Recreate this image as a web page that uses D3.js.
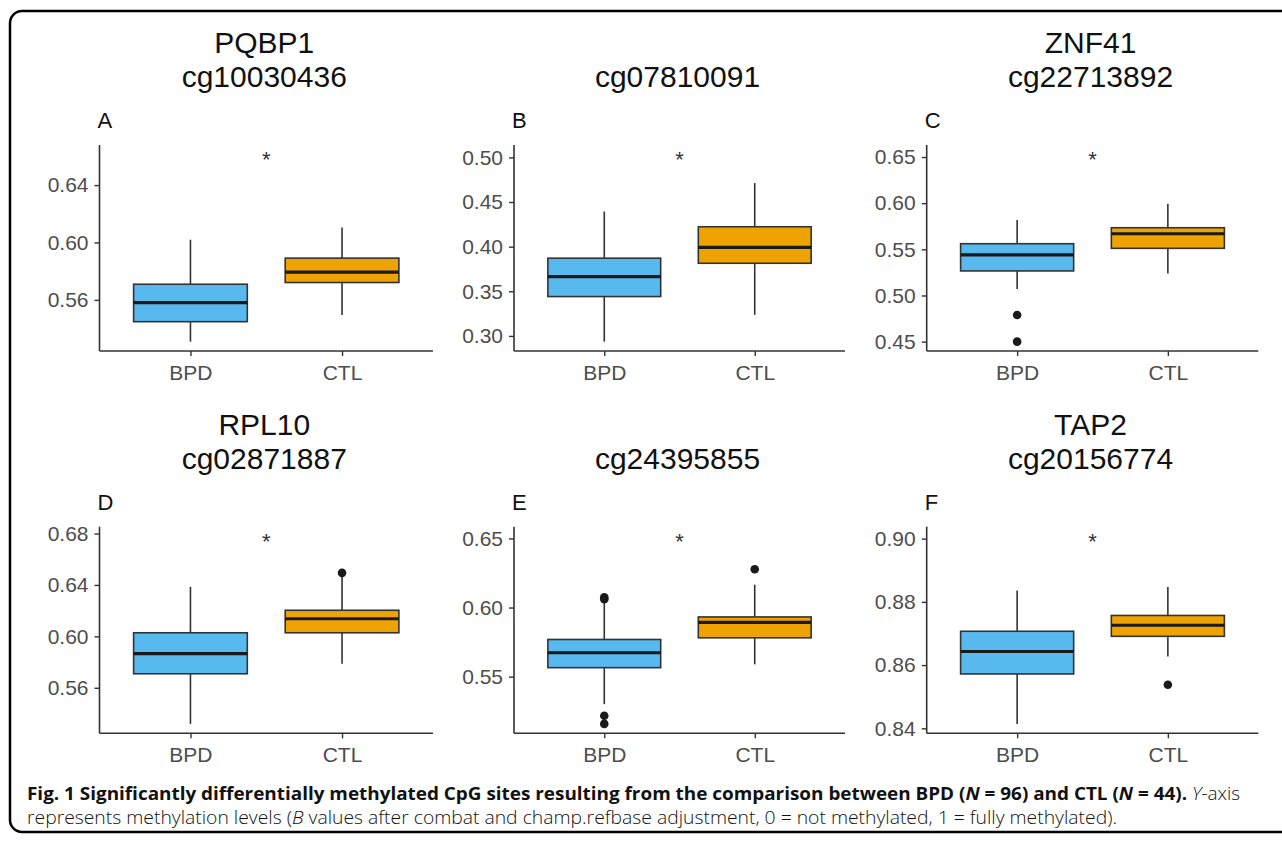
<!DOCTYPE html>
<html>
<head>
<meta charset="utf-8">
<script src="https://cdn.jsdelivr.net/npm/d3@7/dist/d3.min.js"></script>
<style>
  html, body { margin: 0; padding: 0; background: #fff; }
  svg { display: block; }
</style>
</head>
<body>
<div id="chart"></div>
<script>
// group names on the x axis
var groups = ["BPD", "CTL"];
var groupColors = ["#58B9EF", "#EFA302"];

// panel titles
var panelLetters = ["A", "B", "C", "D", "E", "F"];
var geneNames = ["PQBP1", "", "ZNF41", "RPL10", "", "TAP2"];
var probeIds = ["cg10030436", "cg07810091", "cg22713892", "cg02871887", "cg24395855", "cg20156774"];

// box stats per panel: [lower whisker, Q1, median, Q3, upper whisker]
var bpdStats = [
  [0.5309, 0.5448, 0.5581, 0.5709, 0.6019],
  [0.2936, 0.3441, 0.3665, 0.3871, 0.4394],
  [0.5069, 0.5266, 0.5439, 0.5561, 0.5817],
  [0.5319, 0.5709, 0.5865, 0.6028, 0.6385],
  [0.5301, 0.5565, 0.5673, 0.5769, 0.6032],
  [0.8414, 0.8572, 0.8643, 0.8707, 0.8836]
];
var ctlStats = [
  [0.5495, 0.5721, 0.5793, 0.5891, 0.6105],
  [0.3236, 0.3814, 0.3992, 0.4223, 0.4712],
  [0.5237, 0.5511, 0.5669, 0.5734, 0.5993],
  [0.5787, 0.6028, 0.6137, 0.6203, 0.6462],
  [0.5589, 0.5781, 0.5893, 0.5932, 0.6165],
  [0.8627, 0.8691, 0.8726, 0.8757, 0.8847]
];
var bpdOutliers = [[], [], [0.4788, 0.4500], [], [0.6075, 0.6060, 0.5217, 0.5158], []];
var ctlOutliers = [[], [], [], [0.6494], [0.6277], [0.8538]];

// y of the significance star (p.signif label)
var starY = [0.6614, 0.5034, 0.6529, 0.6780, 0.6517, 0.9008];

// y tick labels
var yTicks = [
  [0.56, 0.60, 0.64],
  [0.30, 0.35, 0.40, 0.45, 0.50],
  [0.45, 0.50, 0.55, 0.60, 0.65],
  [0.56, 0.60, 0.64, 0.68],
  [0.55, 0.60, 0.65],
  [0.84, 0.86, 0.88, 0.90]
];

var W = 1282, H = 843;
var colLeft = [99.5, 514, 926.7], colRight = [433, 845, 1258.3];
var rowTop = [145, 526.7], rowBottom = [351, 733.3];
var font = "'Liberation Sans', Arial, sans-serif";
var dark = "#333333";

var svg = d3.select("#chart").append("svg")
  .attr("width", W)
  .attr("height", H);

// outer frame
svg.append("rect")
  .attr("x", 10).attr("y", 11)
  .attr("width", 1300).attr("height", 821)
  .attr("rx", 12).attr("ry", 12)
  .style("fill", "none")
  .style("stroke", "#000")
  .style("stroke-width", 2.5);

function drawPanel(p){
  var col = p % 3, row = Math.floor(p / 3);
  var left = colLeft[col], right = colRight[col];
  var top = rowTop[row], bottom = rowBottom[row];

  var stats = [bpdStats[p], ctlStats[p]];
  var outs = [bpdOutliers[p], ctlOutliers[p]];

  // ggplot style range: data + 5% on each side
  var allVals = d3.merge([stats[0], stats[1], outs[0], outs[1], [starY[p]]]);
  var ext = d3.extent(allVals);
  var pad = (ext[1] - ext[0]) * 0.05;

  var y = d3.scaleLinear().domain([ext[0] - pad, ext[1] + pad]).range([bottom, top]);
  var x = d3.scalePoint().domain(groups).range([left, right]).padding(0.6);
  var boxW = x.step() * 0.75;

  var g = svg.append("g").attr("class", "panel");

  // titles
  var cx = (left + right) / 2 - 2;
  if(geneNames[p] != ""){
    g.append("text")
      .attr("x", cx).attr("y", top - 92)
      .attr("text-anchor", "middle")
      .style("font-family", font).style("font-size", "30px").style("fill", "#111")
      .text(geneNames[p]);
  }
  g.append("text")
    .attr("x", cx).attr("y", top - 58)
    .attr("text-anchor", "middle")
    .style("font-family", font).style("font-size", "30px").style("fill", "#111")
    .text(probeIds[p]);
  g.append("text")
    .attr("x", left - 2).attr("y", top - 17)
    .style("font-family", font).style("font-size", "22px").style("fill", "#111")
    .text(panelLetters[p]);

  // boxes
  var boxes = g.selectAll(".box")
    .data(groups.map(function(d, i){ return {grp: d, s: stats[i], out: outs[i], color: groupColors[i]}; }))
    .enter().append("g")
    .attr("class", "box");

  boxes.append("line")
    .attr("x1", function(d){ return x(d.grp); })
    .attr("x2", function(d){ return x(d.grp); })
    .attr("y1", function(d){ return y(d.s[0]); })
    .attr("y2", function(d){ return y(d.s[4]); })
    .style("stroke", dark).style("stroke-width", 1.6);

  boxes.append("rect")
    .attr("x", function(d){ return x(d.grp) - boxW / 2; })
    .attr("width", boxW)
    .attr("y", function(d){ return y(d.s[3]); })
    .attr("height", function(d){ return y(d.s[1]) - y(d.s[3]); })
    .style("fill", function(d){ return d.color; })
    .style("stroke", dark).style("stroke-width", 1.6);

  boxes.append("line")
    .attr("x1", function(d){ return x(d.grp) - boxW / 2; })
    .attr("x2", function(d){ return x(d.grp) + boxW / 2; })
    .attr("y1", function(d){ return y(d.s[2]); })
    .attr("y2", function(d){ return y(d.s[2]); })
    .style("stroke", "#1a1a1a").style("stroke-width", 3.2);

  boxes.selectAll(".outlier")
    .data(function(d){ return d.out.map(function(v){ return {grp: d.grp, v: v}; }); })
    .enter().append("circle")
    .attr("class", "outlier")
    .attr("cx", function(d){ return x(d.grp); })
    .attr("cy", function(d){ return y(d.v); })
    .attr("r", 4.3)
    .style("fill", "#1a1a1a");

  // significance star
  g.append("text")
    .attr("x", (x(groups[0]) + x(groups[1])) / 2)
    .attr("y", y(starY[p]))
    .attr("dy", "0.57em")
    .attr("text-anchor", "middle")
    .style("font-family", font).style("font-size", "22px").style("fill", dark)
    .text("*");

  // axes
  var yAxis = g.append("g")
    .attr("transform", "translate(" + left + ",0)")
    .call(d3.axisLeft(y).tickValues(yTicks[p]).tickFormat(d3.format(".2f")).tickSize(5).tickSizeOuter(0).tickPadding(6));
  var xAxis = g.append("g")
    .attr("transform", "translate(0," + bottom + ")")
    .call(d3.axisBottom(x).tickSize(5).tickSizeOuter(0).tickPadding(9));

  [yAxis, xAxis].forEach(function(a){
    a.select(".domain").style("stroke", dark).style("stroke-width", 1.6);
    a.selectAll(".tick line").style("stroke", dark).style("stroke-width", 1.4);
    a.selectAll(".tick text")
      .style("font-family", font).style("font-size", "21px").style("fill", "#4d4d4d");
  });
  // make the y axis line span full panel
  yAxis.select(".domain").attr("d", "M0," + bottom + "V" + top);
  xAxis.select(".domain").attr("d", "M" + left + ",0H" + right);
}

for(var p = 0; p < 6; p++){ drawPanel(p); }

// figure caption
var capFont = "'Open Sans', 'Noto Sans', sans-serif";
var cap1 = svg.append("text")
  .attr("x", 27).attr("y", 800)
  .attr("textLength", 1213).attr("lengthAdjust", "spacingAndGlyphs")
  .style("font-family", capFont).style("font-size", "18px").style("fill", "#111");
cap1.append("tspan").style("font-weight", "bold").text("Fig. 1 Significantly differentially methylated CpG sites resulting from the comparison between BPD (");
cap1.append("tspan").style("font-weight", "bold").style("font-style", "italic").text("N");
cap1.append("tspan").style("font-weight", "bold").text(" = 96) and CTL (");
cap1.append("tspan").style("font-weight", "bold").style("font-style", "italic").text("N");
cap1.append("tspan").style("font-weight", "bold").text(" = 44). ");
cap1.append("tspan").style("font-style", "italic").style("font-weight", "300").text("Y");
cap1.append("tspan").style("font-weight", "300").text("-axis");

var cap2 = svg.append("text")
  .attr("x", 27).attr("y", 824)
  .attr("textLength", 1090).attr("lengthAdjust", "spacingAndGlyphs")
  .style("font-family", capFont).style("font-size", "18px").style("font-weight", "300").style("fill", "#111");
cap2.append("tspan").text("represents methylation levels (");
cap2.append("tspan").style("font-style", "italic").text("B");
cap2.append("tspan").text(" values after combat and champ.refbase adjustment, 0 = not methylated, 1 = fully methylated).");
</script>
</body>
</html>
